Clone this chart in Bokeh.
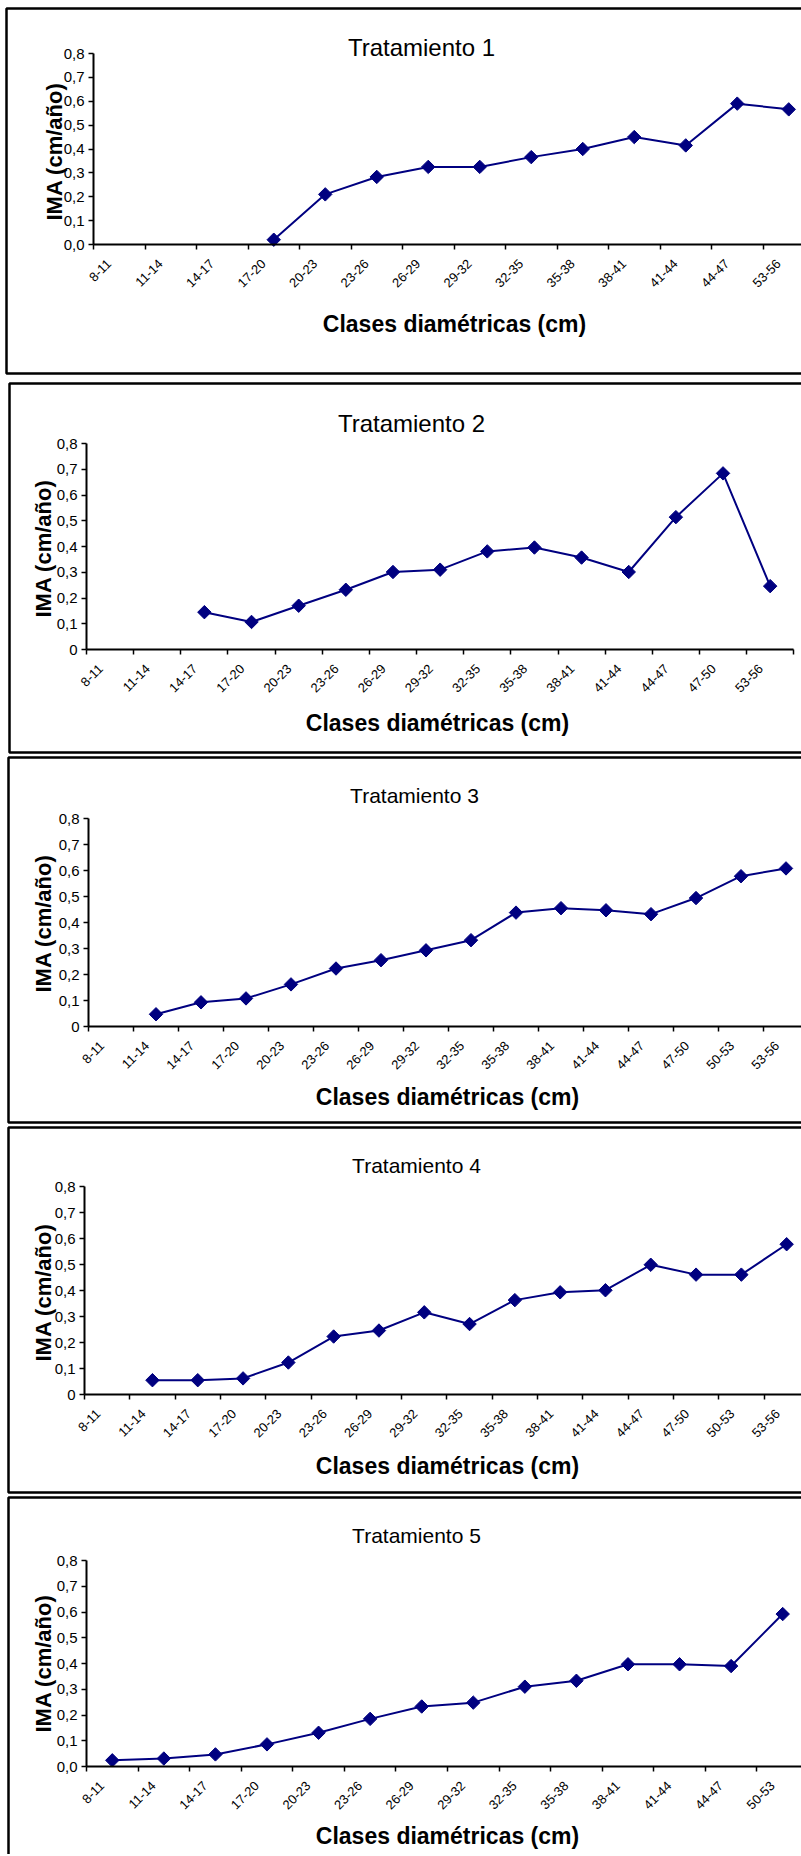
from math import pi

from bokeh.embed import file_html
from bokeh.layouts import column
from bokeh.models import (CustomJSTickFormatter, FixedTicker, Label,
                          LinearAxis, PolyAnnotation, Range1d)
from bokeh.plotting import figure
from bokeh.resources import INLINE

# Diameter classes (cm) and mean annual increment IMA (cm/año) per treatment
classes_t1 = ["8-11", "11-14", "14-17", "17-20", "20-23", "23-26", "26-29",
              "29-32", "32-35", "35-38", "38-41", "41-44", "44-47", "53-56"]
ima_t1 = [None, None, None, 0.02, 0.21, 0.283, 0.325, 0.325, 0.366, 0.40,
          0.45, 0.415, 0.59, 0.566]

classes_t2 = ["8-11", "11-14", "14-17", "17-20", "20-23", "23-26", "26-29",
              "29-32", "32-35", "35-38", "38-41", "41-44", "44-47", "47-50",
              "53-56"]
ima_t2 = [None, None, 0.145, 0.107, 0.17, 0.232, 0.301, 0.31, 0.381, 0.396,
          0.357, 0.301, 0.514, 0.684, 0.246]

classes_t3 = ["8-11", "11-14", "14-17", "17-20", "20-23", "23-26", "26-29",
              "29-32", "32-35", "35-38", "38-41", "41-44", "44-47", "47-50",
              "50-53", "53-56"]
ima_t3 = [None, 0.047, 0.093, 0.108, 0.162, 0.223, 0.255, 0.293, 0.332,
          0.438, 0.455, 0.447, 0.432, 0.494, 0.578, 0.608]

classes_t4 = ["8-11", "11-14", "14-17", "17-20", "20-23", "23-26", "26-29",
              "29-32", "32-35", "35-38", "38-41", "41-44", "44-47", "47-50",
              "50-53", "53-56"]
ima_t4 = [None, 0.055, 0.055, 0.062, 0.123, 0.223, 0.246, 0.316, 0.271,
          0.363, 0.393, 0.401, 0.499, 0.461, 0.461, 0.578]

classes_t5 = ["8-11", "11-14", "14-17", "17-20", "20-23", "23-26", "26-29",
              "29-32", "32-35", "35-38", "38-41", "41-44", "44-47", "50-53"]
ima_t5 = [0.024, 0.031, 0.047, 0.086, 0.131, 0.185, 0.233, 0.248, 0.31,
          0.333, 0.397, 0.397, 0.39, 0.592]

y_ticks = [0.0, 0.1, 0.2, 0.3, 0.4, 0.5, 0.6, 0.7, 0.8]
Y_MAX = 0.8

FONT = "Liberation Sans"
NAVY = "#000080"
WIDTH = 801

# panel geometry in canvas pixels: axis origin (ox, oy), top of value axis (ty),
# width of one diameter class (cw), canvas height (h)
panels = [
    dict(title="Tratamiento 1", classes=classes_t1, ima=ima_t1, zero="0,0",
         h=378, ox=93, oy=244, ty=53, cw=51.5,
         box=(6, 8, 373), tpos=(421, 47), tsize=24,
         xpos=(454, 323), ypos=(54, 151)),
    dict(title="Tratamiento 2", classes=classes_t2, ima=ima_t2, zero="0",
         h=377, ox=86, oy=271, ty=65, cw=47.15,
         box=(9, 5, 374), tpos=(411, 45), tsize=24,
         xpos=(437, 344), ypos=(43, 170)),
    dict(title="Tratamiento 3", classes=classes_t3, ima=ima_t3, zero="0",
         h=370, ox=88, oy=271, ty=63, cw=45.0,
         box=(8, 2, 367), tpos=(414, 40), tsize=21,
         xpos=(447, 341), ypos=(43, 168)),
    dict(title="Tratamiento 4", classes=classes_t4, ima=ima_t4, zero="0",
         h=370, ox=84, oy=269, ty=61, cw=45.3,
         box=(8, 2, 367), tpos=(416, 40), tsize=21,
         xpos=(447, 340), ypos=(43, 167)),
    dict(title="Tratamiento 5", classes=classes_t5, ima=ima_t5, zero="0,0",
         h=359, ox=86, oy=271, ty=65, cw=51.57,
         box=(8, 2, 420), tpos=(416, 40), tsize=21,
         xpos=(447, 340), ypos=(43, 168)),
]


def make_panel(cfg):
    h, ox, oy, ty, cw = cfg["h"], cfg["ox"], cfg["oy"], cfg["ty"], cfg["cw"]
    ppu = (oy - ty) / Y_MAX  # pixels per IMA unit
    p = figure(width=WIDTH, height=h, min_border=0,
               x_range=Range1d(-ox / cw, (WIDTH - ox) / cw),
               y_range=Range1d(-(h - oy) / ppu, oy / ppu),
               x_axis_type=None, y_axis_type=None,
               output_backend="svg", toolbar_location=None)
    p.grid.visible = False
    p.outline_line_color = None
    p.background_fill_color = "white"
    p.border_fill_color = "white"

    classes = cfg["classes"]
    n = len(classes)

    # chart-area frame; its right side lies past the page edge
    left, top, bottom = cfg["box"]
    far = left + 1000
    p.add_layout(PolyAnnotation(xs=[far, left, left, far],
                                ys=[top, top, bottom, bottom],
                                xs_units="canvas", ys_units="canvas",
                                fill_color=None, fill_alpha=0,
                                line_color="black", line_alpha=1,
                                line_width=2.5))

    # category axis: class boundaries as minor ticks, labels near class centre
    xaxis = LinearAxis(
        fixed_location=0, bounds=(0, n),
        ticker=FixedTicker(ticks=[i + 0.3 for i in range(n)],
                           minor_ticks=list(range(n + 1))),
        formatter=CustomJSTickFormatter(
            args=dict(labels=classes),
            code="return labels[Math.floor(tick)] || ''"),
    )
    xaxis.axis_line_color = "black"
    xaxis.axis_line_width = 2
    xaxis.major_tick_line_color = None
    xaxis.major_tick_out = 0
    xaxis.major_tick_in = 0
    xaxis.minor_tick_line_color = "black"
    xaxis.minor_tick_line_width = 1.5
    xaxis.minor_tick_out = 5
    xaxis.minor_tick_in = 0
    xaxis.major_label_orientation = pi / 4
    xaxis.major_label_standoff = 12
    xaxis.major_label_text_font = FONT
    xaxis.major_label_text_font_size = "13px"
    xaxis.major_label_text_color = "black"
    p.add_layout(xaxis, "below")

    yaxis = LinearAxis(
        fixed_location=0, bounds=(0, Y_MAX),
        ticker=FixedTicker(ticks=y_ticks, minor_ticks=[]),
        formatter=CustomJSTickFormatter(
            args=dict(zero=cfg["zero"]),
            code="if (Math.abs(tick) < 1e-9) { return zero }; "
                 "return tick.toFixed(1).replace('.', ',')"),
    )
    yaxis.axis_line_color = "black"
    yaxis.axis_line_width = 2
    yaxis.major_tick_line_color = "black"
    yaxis.major_tick_line_width = 1.5
    yaxis.major_tick_out = 5
    yaxis.major_tick_in = 0
    yaxis.minor_tick_line_color = None
    yaxis.major_label_standoff = 4
    yaxis.major_label_text_font = FONT
    yaxis.major_label_text_font_size = "15px"
    yaxis.major_label_text_color = "black"
    p.add_layout(yaxis, "left")

    xs = [i + 0.5 for i, v in enumerate(cfg["ima"]) if v is not None]
    ys = [v for v in cfg["ima"] if v is not None]
    p.line(xs, ys, line_color=NAVY, line_width=2)
    p.scatter(xs, ys, marker="square", size=9.5, angle=pi / 4,
              fill_color=NAVY, line_color=NAVY)

    tx, ty_ = cfg["tpos"]
    p.add_layout(Label(x=tx, y=ty_, x_units="canvas", y_units="canvas",
                       text=cfg["title"], text_font=FONT,
                       text_font_size=f"{cfg['tsize']}px",
                       text_align="center", text_baseline="middle",
                       text_color="black"))
    xx, xy = cfg["xpos"]
    p.add_layout(Label(x=xx, y=xy, x_units="canvas", y_units="canvas",
                       text="Clases diamétricas (cm)", text_font=FONT,
                       text_font_size="23px", text_font_style="bold",
                       text_align="center", text_baseline="middle",
                       text_color="black"))
    yx, yy = cfg["ypos"]
    p.add_layout(Label(x=yx, y=yy, x_units="canvas", y_units="canvas",
                       text="IMA (cm/año)", text_font=FONT,
                       text_font_size="22px", text_font_style="bold",
                       angle=pi / 2, text_align="center",
                       text_baseline="middle", text_color="black"))
    return p


layout = column([make_panel(c) for c in panels], spacing=0)

with open("out.html", "w") as f:
    f.write(file_html(layout, INLINE))
